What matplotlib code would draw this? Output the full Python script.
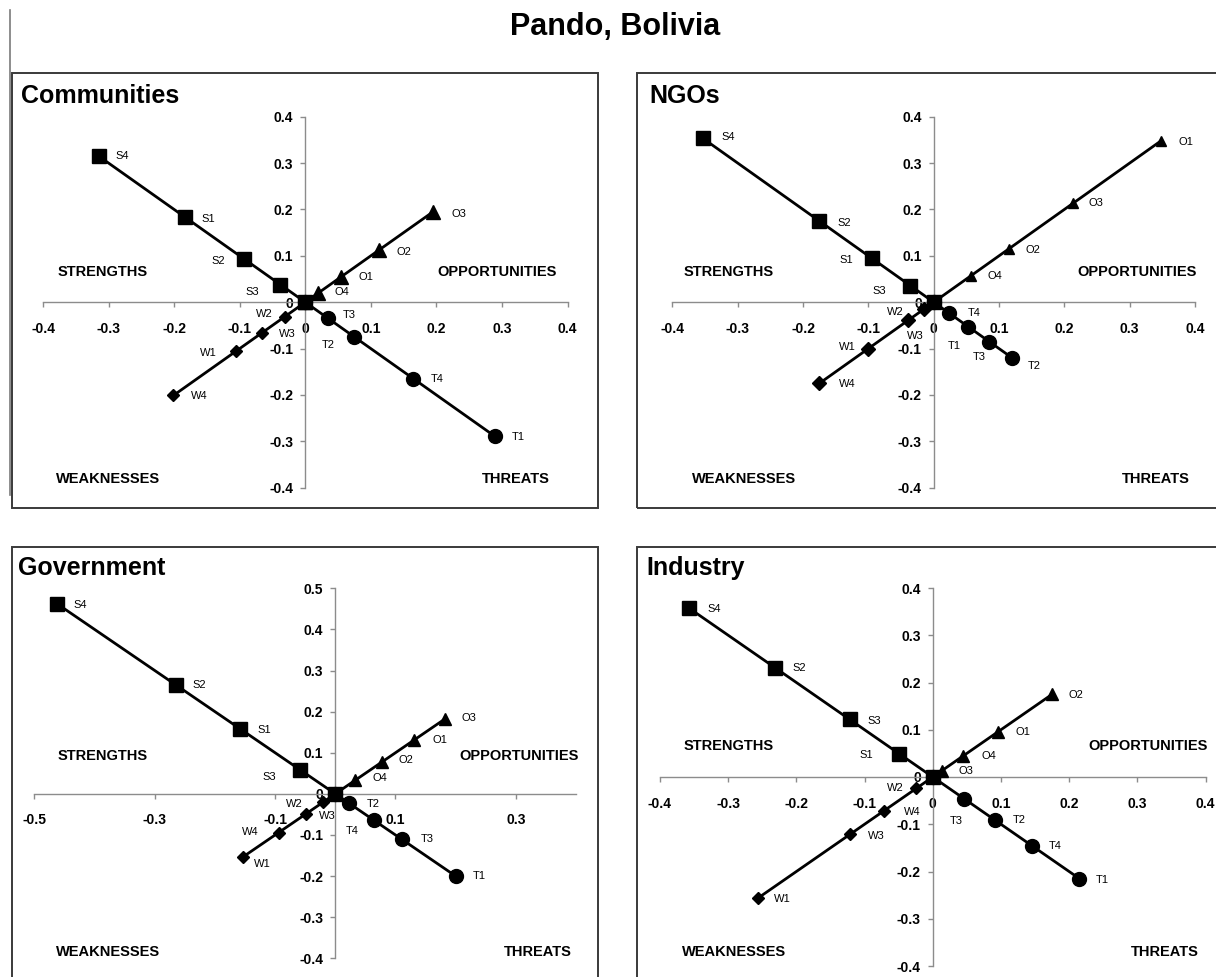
import matplotlib
matplotlib.use('Agg')
import matplotlib.pyplot as plt
from matplotlib.patches import Rectangle
from matplotlib.lines import Line2D

plt.rcParams['font.family'] = ['Liberation Sans', 'DejaVu Sans']

W, H = 1216, 977

# factor values (distance along each diagonal)
comm_s_lab = ['S4', 'S1', 'S2', 'S3']
comm_s = [0.315, 0.183, 0.093, 0.038]
comm_w_lab = ['W4', 'W1', 'W3', 'W2']
comm_w = [0.201, 0.106, 0.066, 0.031]
comm_o_lab = ['O3', 'O2', 'O1', 'O4']
comm_o = [0.195, 0.113, 0.055, 0.020]
comm_t_lab = ['T1', 'T4', 'T2', 'T3']
comm_t = [0.289, 0.165, 0.075, 0.035]

ngo_s_lab = ['S4', 'S2', 'S1', 'S3']
ngo_s = [0.353, 0.175, 0.095, 0.036]
ngo_w_lab = ['W4', 'W1', 'W3', 'W2']
ngo_w = [0.175, 0.100, 0.039, 0.015]
ngo_o_lab = ['O1', 'O3', 'O2', 'O4']
ngo_o = [0.348, 0.213, 0.115, 0.057]
ngo_t_lab = ['T2', 'T3', 'T1', 'T4']
ngo_t = [0.120, 0.085, 0.053, 0.023]

gov_s_lab = ['S4', 'S2', 'S1', 'S3']
gov_s = [0.463, 0.265, 0.158, 0.058]
gov_w_lab = ['W1', 'W4', 'W3', 'W2']
gov_w = [0.154, 0.094, 0.048, 0.020]
gov_o_lab = ['O3', 'O1', 'O2', 'O4']
gov_o = [0.183, 0.130, 0.078, 0.033]
gov_t_lab = ['T1', 'T3', 'T4', 'T2']
gov_t = [0.200, 0.111, 0.064, 0.023]

ind_s_lab = ['S4', 'S2', 'S3', 'S1']
ind_s = [0.357, 0.231, 0.122, 0.049]
ind_w_lab = ['W1', 'W3', 'W4', 'W2']
ind_w = [0.256, 0.121, 0.071, 0.024]
ind_o_lab = ['O2', 'O1', 'O4', 'O3']
ind_o = [0.175, 0.096, 0.045, 0.013]
ind_t_lab = ['T1', 'T4', 'T2', 'T3']
ind_t = [0.215, 0.145, 0.092, 0.046]

ticks_8 = [-0.4, -0.3, -0.2, -0.1, 0, 0.1, 0.2, 0.3, 0.4]
gov_xticks = [-0.5, -0.3, -0.1, 0.1, 0.3]
gov_yticks = [-0.4, -0.3, -0.2, -0.1, 0, 0.1, 0.2, 0.3, 0.4, 0.5]

quad_names = {'S': 'STRENGTHS', 'O': 'OPPORTUNITIES', 'W': 'WEAKNESSES', 'T': 'THREATS'}

# layout in pixels (x from left, y from top)
comm_lay = dict(box=(12, 73, 598, 508), plot=(43, 567.5, 116.7, 487.7),
                xlim=(-0.4, 0.4), ylim=(-0.4, 0.4), title=(21, 103),
                quad={'S': (102.6, 272.3), 'O': (497.5, 272.3), 'W': (108, 479), 'T': (516, 479)},
                tri=10, dia=6,
                off={'S4': (24, 0), 'S1': (23, 2), 'S2': (-26, 2), 'S3': (-28, 7),
                     'O3': (26, 2), 'O2': (25, 2), 'O1': (25, 0), 'O4': (24, -1),
                     'W2': (-21, -3), 'W3': (25, 1), 'W1': (-27, 2), 'W4': (26, 1),
                     'T3': (21, -3), 'T2': (-26, 8), 'T4': (24, 0), 'T1': (24, 1)})
ngo_lay = dict(box=(637, 73, 1222, 508), plot=(672.4, 1195, 116.7, 487.7),
               xlim=(-0.4, 0.4), ylim=(-0.4, 0.4), title=(649, 103),
               quad={'S': (728.3, 272.3), 'O': (1137.4, 272.3), 'W': (744.4, 479), 'T': (1155.8, 479)},
               tri=7.5, dia=7,
               off={'S4': (25, -1), 'S2': (25, 2), 'S1': (-25, 2), 'S3': (-31, 5),
                    'O1': (25, 1), 'O3': (23, 0), 'O2': (24, 1), 'O4': (24, 0),
                    'W2': (-29, 3), 'W3': (7, 16), 'W1': (-21, -2), 'W4': (28, 1),
                    'T4': (25, 0), 'T1': (-14, 19), 'T3': (-10, 15), 'T2': (22, 8)})
gov_lay = dict(box=(12, 547, 598, 985), plot=(34.4, 576, 588.3, 958.3),
               xlim=(-0.5, 0.4), ylim=(-0.4, 0.5), title=(18.4, 575),
               quad={'S': (102.6, 756), 'O': (519.3, 756), 'W': (108, 951.7), 'T': (537.7, 951.7)},
               tri=9, dia=6,
               off={'S4': (24, 1), 'S2': (23, 0), 'S1': (24, 1), 'S3': (-31, 7),
                    'O3': (24, -1), 'O1': (26, 0), 'O2': (24, -2), 'O4': (25, -2),
                    'W2': (-29, 2), 'W3': (21, 2), 'W4': (-28, 0), 'W1': (20, 7),
                    'T2': (24, 1), 'T4': (-22, 11), 'T3': (25, 0), 'T1': (24, 0)})
ind_lay = dict(box=(637, 547, 1222, 985), plot=(660, 1205.5, 588, 966),
               xlim=(-0.4, 0.4), ylim=(-0.4, 0.4), title=(646, 575),
               quad={'S': (728.3, 745.7), 'O': (1148, 745.7), 'W': (733.7, 951.7), 'T': (1165.3, 951.7)},
               tri=9, dia=6,
               off={'S4': (25, 1), 'S2': (24, 0), 'S3': (25, 2), 'S1': (-33, 1),
                    'O2': (24, 1), 'O1': (25, 0), 'O4': (25, 0), 'O3': (24, 0),
                    'W2': (-21, 0), 'W4': (28, 1), 'W3': (26, 2), 'W1': (24, 1),
                    'T3': (-8, 22), 'T2': (24, 0), 'T4': (24, 0), 'T1': (23, 1)})

fig = plt.figure(figsize=(W / 100, H / 100), dpi=100)

# main title
fig.text(615 / W, 1 - 35 / H, 'Pando, Bolivia', ha='center', va='baseline',
         fontsize=22, fontweight='bold')
# stray border line at the left
fig.add_artist(Line2D([10 / W, 10 / W], [1 - 10 / H, 1 - 495 / H],
                      transform=fig.transFigure, color='#7a7a7a', lw=1.2))


def draw_panel(name, groups, xticks, yticks, lay):
    x0, y0, x1, y1 = lay['box']
    fig.add_artist(Rectangle((x0 / W, 1 - y1 / H), (x1 - x0) / W, (y1 - y0) / H,
                             transform=fig.transFigure, fill=False,
                             ec='#3a3a3a', lw=1.4))
    tx, ty = lay['title']
    fig.text(tx / W, 1 - ty / H, name, ha='left', va='baseline',
             fontsize=18, fontweight='bold')
    for k, (qx, qy) in lay['quad'].items():
        fig.text(qx / W, 1 - qy / H, quad_names[k], ha='center', va='center',
                 fontsize=10.5, fontweight='bold')

    l, r, top, bot = lay['plot']
    ax = fig.add_axes([l / W, 1 - bot / H, (r - l) / W, (bot - top) / H])
    ax.patch.set_visible(False)
    ax.set_xlim(*lay['xlim'])
    ax.set_ylim(*lay['ylim'])
    for side in ['top', 'right']:
        ax.spines[side].set_visible(False)
    for side in ['left', 'bottom']:
        ax.spines[side].set_position(('data', 0))
        ax.spines[side].set_color('#8c8c8c')
        ax.spines[side].set_linewidth(1.0)
    ax.set_xticks(xticks)
    ax.set_xticklabels([f'{v:g}' for v in xticks])
    ax.set_yticks(yticks)
    ax.set_yticklabels([f'{v:g}' for v in yticks])
    ax.tick_params(axis='x', direction='out', length=3.6, width=1, color='#8c8c8c',
                   pad=10.5, labelsize=10)
    ax.tick_params(axis='y', direction='out', length=3.6, width=1, color='#8c8c8c',
                   pad=5, labelsize=10)
    for lab in ax.get_xticklabels() + ax.get_yticklabels():
        lab.set_fontweight('bold')

    for vals, labs, sx, sy, marker, ms in groups:
        xs = [0] + [sx * v for v in vals[::-1]]
        ys = [0] + [sy * v for v in vals[::-1]]
        ax.plot(xs, ys, color='black', lw=2, marker=marker, ms=ms,
                mfc='black', mec='black', clip_on=False, zorder=3)
        for v, lab in zip(vals, labs):
            dx, dy = lay['off'][lab]
            ax.annotate(lab, (sx * v, sy * v), xytext=(dx, -dy),
                        textcoords='offset pixels', ha='center', va='center',
                        fontsize=8, annotation_clip=False)
    return ax


panels = [
    ('Communities', comm_s, comm_s_lab, comm_w, comm_w_lab, comm_o, comm_o_lab,
     comm_t, comm_t_lab, ticks_8, ticks_8, comm_lay),
    ('NGOs', ngo_s, ngo_s_lab, ngo_w, ngo_w_lab, ngo_o, ngo_o_lab,
     ngo_t, ngo_t_lab, ticks_8, ticks_8, ngo_lay),
    ('Government', gov_s, gov_s_lab, gov_w, gov_w_lab, gov_o, gov_o_lab,
     gov_t, gov_t_lab, gov_xticks, gov_yticks, gov_lay),
    ('Industry', ind_s, ind_s_lab, ind_w, ind_w_lab, ind_o, ind_o_lab,
     ind_t, ind_t_lab, ticks_8, ticks_8, ind_lay),
]

for (name, s, s_lab, w, w_lab, o, o_lab, t, t_lab, xt, yt, lay) in panels:
    groups = [
        (w, w_lab, -1, -1, 'D', lay['dia']),
        (t, t_lab, 1, -1, 'o', 10),
        (o, o_lab, 1, 1, '^', lay['tri']),
        (s, s_lab, -1, 1, 's', 10.5),
    ]
    draw_panel(name, groups, xt, yt, lay)

fig.savefig('out.png', dpi=100)
